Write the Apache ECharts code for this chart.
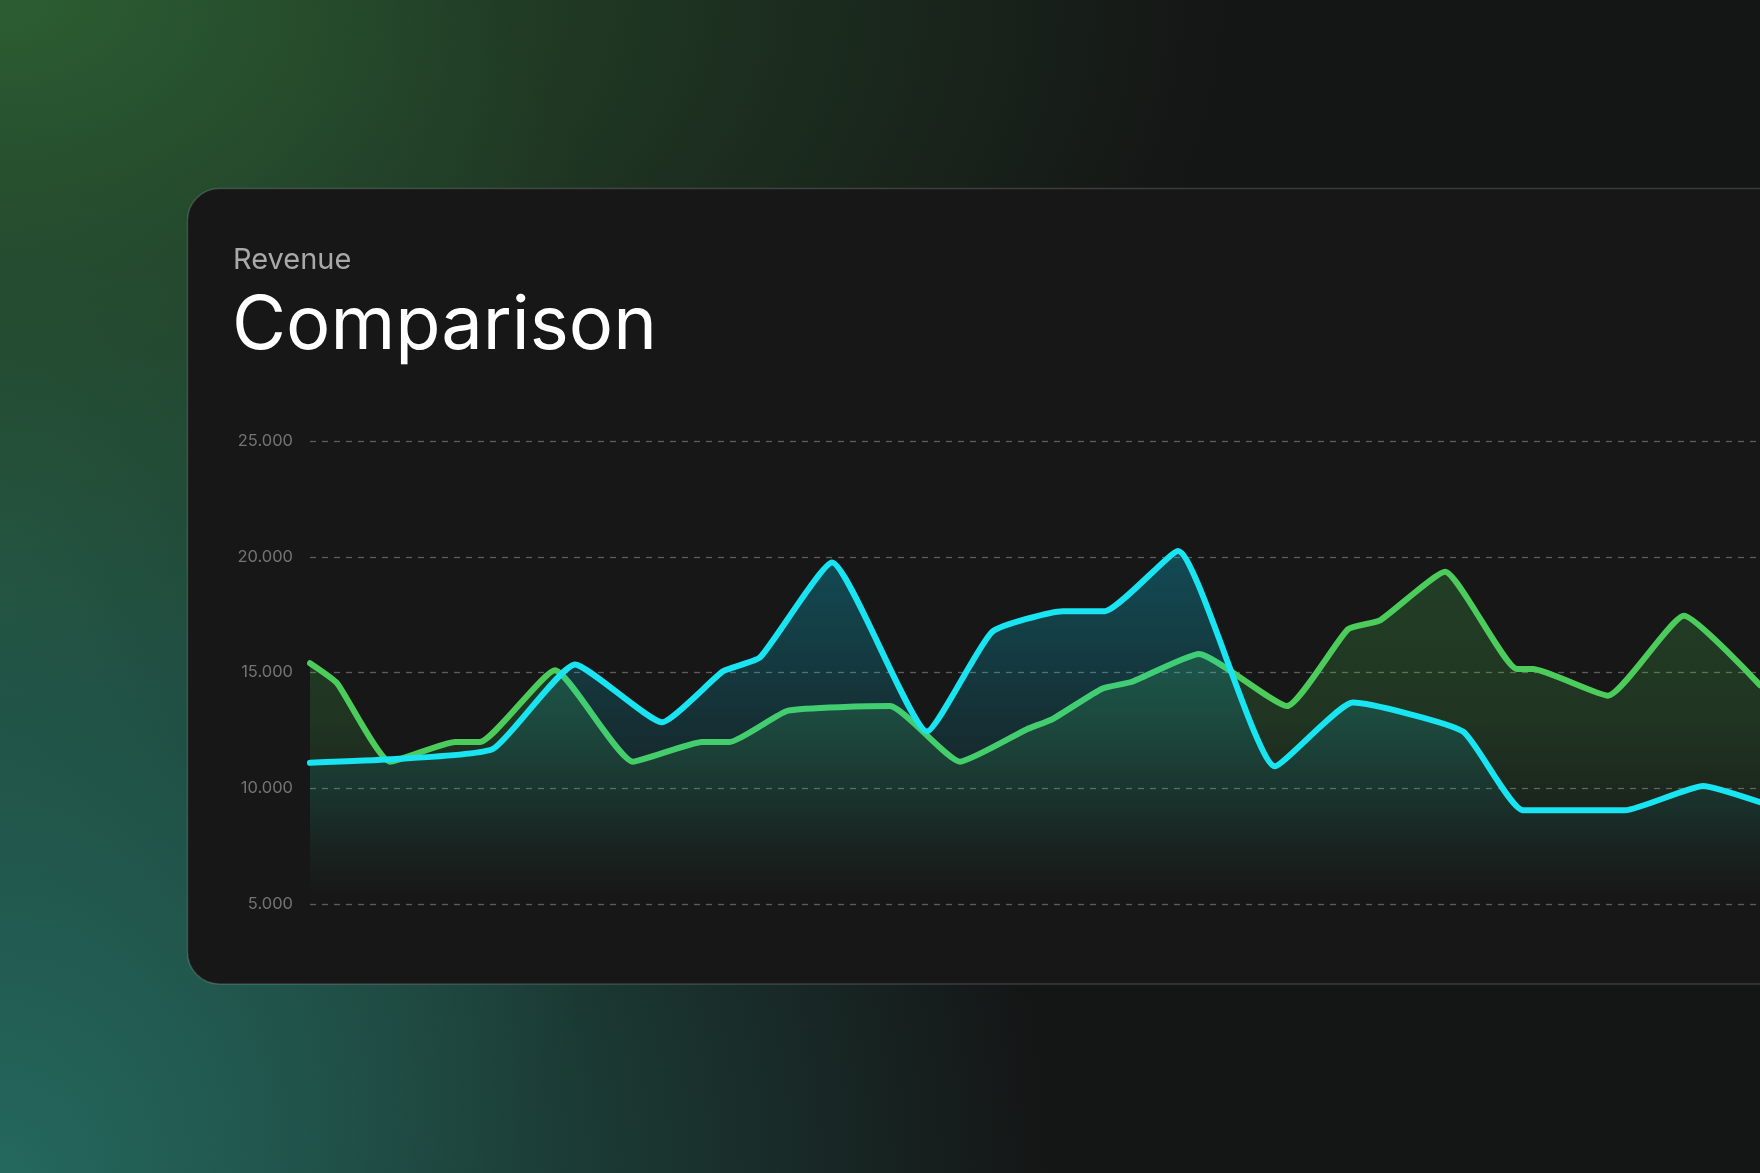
<!DOCTYPE html>
<html>
<head>
<meta charset="utf-8">
<script src="https://cdn.jsdelivr.net/npm/echarts@6/dist/echarts.min.js"></script>
<style>
  html, body { margin: 0; padding: 0; width: 1760px; height: 1173px; overflow: hidden; }
  body {
    background:
      radial-gradient(ellipse 70% 60% at 0% 0%, rgba(44,94,50,1) 0%, rgba(40,82,46,0.65) 40%, rgba(30,50,34,0) 100%),
      radial-gradient(ellipse 60% 85% at 0% 100%, rgba(36,104,94,1) 0%, rgba(34,92,82,0.65) 45%, rgba(30,60,55,0) 100%),
      radial-gradient(ellipse 38% 75% at 0% 50%, rgba(36,86,64,0.9) 0%, rgba(36,86,64,0) 100%),
      #141515;
  }
  #chart { width: 1760px; height: 1173px; }
</style>
</head>
<body>
<div id="chart"></div>
<script>
// ---- data (x = position along the period, y = revenue) ----
const greenDays = [0, 2.7, 8.0, 14.5, 17.0, 24.5, 32.3, 39.2, 42.0, 47.8, 58.0, 65.0, 71.7, 74.3, 79.2, 82.2, 88.9, 97.7, 103.8, 107.0, 113.5, 120.7, 122.3, 129.8, 137.4, 145];
const greenValues = [15400, 14540, 11150, 12000, 12000, 15100, 11150, 12000, 12000, 13350, 13550, 11150, 12550, 13000, 14300, 14600, 15800, 13550, 16870, 17250, 19350, 15150, 15150, 14000, 17450, 14450];

const cyanDays = [0, 8.0, 18.3, 26.5, 35.2, 41.3, 45.0, 52.2, 61.7, 68.2, 75.3, 79.5, 86.8, 96.5, 104.3, 115.3, 121.3, 131.5, 139.3, 145];
const cyanValues = [11100, 11250, 11700, 15350, 12850, 15050, 15650, 19750, 12450, 16750, 17650, 17650, 20250, 10950, 13700, 12450, 9050, 9050, 10100, 9400];

const yTicks = [5000, 10000, 15000, 20000, 25000];
const subtitle = 'Revenue';
const title = 'Comparison';

function fmt(v) {
  const s = String(Math.round(v));
  return s.replace(/\B(?=(\d{3})+(?!\d))/g, '.');
}

const chart = echarts.init(document.getElementById('chart'), null, { renderer: 'canvas' });

const cyanFill = new echarts.graphic.LinearGradient(0, 540, 0, 895, [
  { offset: 0, color: 'rgba(8,205,240,0.42)' },
  { offset: 0.5, color: 'rgba(8,205,240,0.2)' },
  { offset: 0.85, color: 'rgba(8,205,240,0.05)' },
  { offset: 1, color: 'rgba(8,205,240,0)' }
], true);
const greenFill = new echarts.graphic.LinearGradient(0, 540, 0, 895, [
  { offset: 0, color: 'rgba(76,207,90,0.32)' },
  { offset: 0.5, color: 'rgba(76,207,90,0.23)' },
  { offset: 0.85, color: 'rgba(76,207,90,0.06)' },
  { offset: 1, color: 'rgba(76,207,90,0)' }
], true);

chart.setOption({
  animation: false,
  backgroundColor: 'transparent',
  graphic: [
    {
      type: 'rect', z: -10, silent: true,
      shape: { x: 187.5, y: 188.5, width: 1800, height: 795.5, r: 32 },
      style: { fill: '#171717', stroke: 'rgba(255,255,255,0.16)', lineWidth: 1.5 }
    },
    {
      type: 'text', z: 10, silent: true,
      style: { x: 233, y: 260, text: subtitle, fill: '#a9a9a9',
        font: '400 29px Inter', textVerticalAlign: 'middle' }
    },
    {
      type: 'text', z: 10, silent: true,
      style: { x: 232, y: 327, text: title, fill: '#ffffff',
        font: '400 74px Inter', textVerticalAlign: 'middle' }
    }
  ],
  grid: { left: 310, right: 0, top: 441, bottom: 269, containLabel: false },
  xAxis: {
    type: 'value', min: 0, max: 145, show: false,
    splitLine: { show: false }
  },
  yAxis: {
    type: 'value', min: 5000, max: 25000, interval: 5000,
    axisLine: { show: false }, axisTick: { show: false },
    axisLabel: {
      margin: 17, color: '#737373', fontFamily: 'Inter', fontSize: 16.5,
      formatter: v => fmt(v)
    },
    splitLine: { lineStyle: { color: 'rgba(255,255,255,0.3)', width: 1.3, type: [6, 6] } }
  },
  series: [
    {
      name: 'green', type: 'line', symbol: 'none', smooth: 0.15,
      data: greenDays.map((d, i) => [d, greenValues[i]]),
      lineStyle: { color: '#4ccd5b', width: 6, cap: 'round', join: 'round' },
      areaStyle: { color: greenFill, origin: 'start' },
      z: 2
    },
    {
      name: 'cyan', type: 'line', symbol: 'none', smooth: 0.15,
      data: cyanDays.map((d, i) => [d, cyanValues[i]]),
      lineStyle: { color: '#18e4f2', width: 6, cap: 'round', join: 'round' },
      areaStyle: { color: cyanFill, origin: 'start' },
      z: 3
    }
  ]
});
</script>
</body>
</html>
